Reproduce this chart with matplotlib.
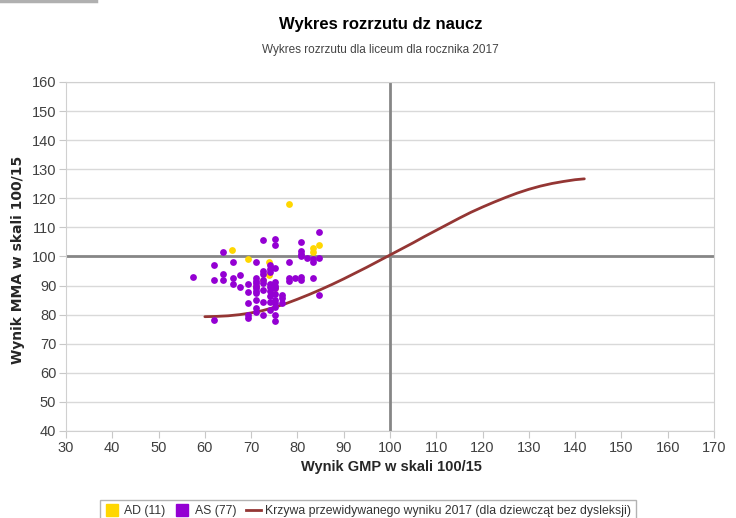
import matplotlib
matplotlib.use("Agg")
import matplotlib.pyplot as plt
from matplotlib.lines import Line2D
import numpy as np

plt.rcParams['font.family'] = ['Liberation Sans', 'DejaVu Sans']

# AD group (yellow)
ad_x = [78.2, 65.9, 69.3, 73.9, 73.9, 83.3, 83.3, 84.7, 71.0, 72.5, 75.2]
ad_y = [118.0, 102.2, 99.0, 98.2, 93.5, 102.8, 101.7, 103.8, 90.0, 92.0, 89.0]

# AS group (purple), read column by column
as_x = ([57.5] + [62.0] * 3 + [64.0] * 3 + [66.0] * 3 + [67.7] * 2 + [69.3] * 5
        + [71.0] * 11 + [72.5] * 8 + [74.0] * 9 + [75.2] * 12 + [76.7] * 3
        + [78.1] * 3 + [79.4] + [80.7] * 6 + [82.1] + [83.3] * 3 + [84.7] * 3)
as_y = ([93.0]
        + [97.0, 92.0, 78.0]
        + [101.5, 94.0, 92.0]
        + [98.0, 92.6, 90.6]
        + [93.5, 89.5]
        + [90.6, 87.8, 84.0, 80.0, 78.8]
        + [98.0, 92.6, 91.7, 90.8, 90.0, 89.0, 88.2, 87.5, 85.0, 82.2, 81.0]
        + [105.7, 95.0, 94.0, 92.0, 90.8, 88.5, 84.4, 79.8]
        + [97.0, 95.8, 94.8, 90.5, 89.6, 88.0, 86.5, 84.4, 81.6]
        + [106.0, 104.0, 96.0, 91.2, 90.0, 89.0, 87.0, 85.2, 84.0, 82.7, 79.9, 77.7]
        + [86.8, 85.6, 84.0]
        + [98.0, 92.6, 91.7]
        + [92.6]
        + [105.1, 102.0, 101.0, 100.0, 92.8, 91.8]
        + [99.6]
        + [99.0, 98.2, 92.6]
        + [108.3, 99.6, 86.8])

# predicted score curve (read every 2.5 points)
curve_x = [60, 62.5, 65, 67.5, 70, 72.5, 75, 77.5, 80, 82.5, 85, 87.5, 90, 92.5,
           95, 97.5, 100, 102.5, 105, 107.5, 110, 112.5, 115, 117.5, 120, 122.5,
           125, 127.5, 130, 132.5, 135, 137.5, 140, 142]
curve_y = [79.3, 79.4, 79.6, 80.0, 80.6, 81.4, 82.5, 83.8, 85.3, 86.9, 88.6, 90.4,
           92.3, 94.3, 96.3, 98.4, 100.5, 102.6, 104.7, 106.9, 109.0, 111.1, 113.2,
           115.2, 117.0, 118.7, 120.3, 121.8, 123.1, 124.2, 125.1, 125.8, 126.4, 126.7]

purple = '#9400d3'
yellow = '#ffd700'
curve_col = '#943634'
grey_grid = '#d9d9d9'

fig = plt.figure(figsize=(7.36, 5.18), dpi=100)
ax = fig.add_axes([0.0897, 0.168, 0.8803, 0.6737])

ax.set_xlim(30, 170)
ax.set_ylim(40, 160)
ax.set_xticks(np.arange(30, 171, 10))
ax.set_yticks(np.arange(40, 161, 10))
ax.yaxis.grid(True, color=grey_grid, lw=1)
ax.set_axisbelow(True)
for sp in ax.spines.values():
    sp.set_color('#d0d0d0')
ax.tick_params(direction='out', length=5, color='#c8c8c8', labelsize=10.5,
               labelcolor='#404040', pad=2)

ax.axvline(100, color='#868686', lw=2, zorder=2)
ax.axhline(100, color='#868686', lw=2, zorder=2)

ax.plot(curve_x, curve_y, color=curve_col, lw=2, zorder=3, solid_capstyle='round')
ax.scatter(ad_x, ad_y, s=24, color=yellow, zorder=4, linewidths=0)
ax.scatter(as_x, as_y, s=24, color=purple, zorder=5, linewidths=0)

ax.set_xlabel('Wynik GMP w skali 100/15', fontsize=10.5, fontweight='bold',
              color='#262626')
ax.xaxis.set_label_coords(0.503, -0.083)
ax.set_ylabel('Wynik MMA w skali 100/15', fontsize=10, fontweight='bold',
              color='#262626', family='DejaVu Sans')
ax.yaxis.set_label_coords(-0.063, 0.49)

fig.text(0.517, 0.952, 'Wykres rozrzutu dz naucz', ha='center', va='center',
         fontsize=12, fontweight='bold')
fig.text(0.517, 0.904, 'Wykres rozrzutu dla liceum dla rocznika 2017', ha='center',
         va='center', fontsize=8.5, color='#444444')

handles = [
    Line2D([], [], marker='s', ls='', color=yellow, markersize=8),
    Line2D([], [], marker='s', ls='', color=purple, markersize=8),
    Line2D([], [], color=curve_col, lw=2),
]
labels = ['AD (11)', 'AS (77)', 'Krzywa przewidywanego wyniku 2017 (dla dziewcząt bez dysleksji)']
leg = fig.legend(handles, labels, loc='lower center', bbox_to_anchor=(0.5, -0.02),
                 ncol=3, frameon=True, fancybox=False, fontsize=8.8,
                 handlelength=1.2, handletextpad=0.4, columnspacing=0.8,
                 borderpad=0.4, edgecolor='#a0a0a0')
leg.get_frame().set_linewidth(1)
for t in leg.get_texts():
    t.set_color('#333333')

# grey strip in the top-left corner
fig.add_artist(Line2D([0, 0.13], [0.998, 0.998], color='#b0b0b0', lw=2.5,
                      transform=fig.transFigure))

fig.savefig('out.png', dpi=100)
